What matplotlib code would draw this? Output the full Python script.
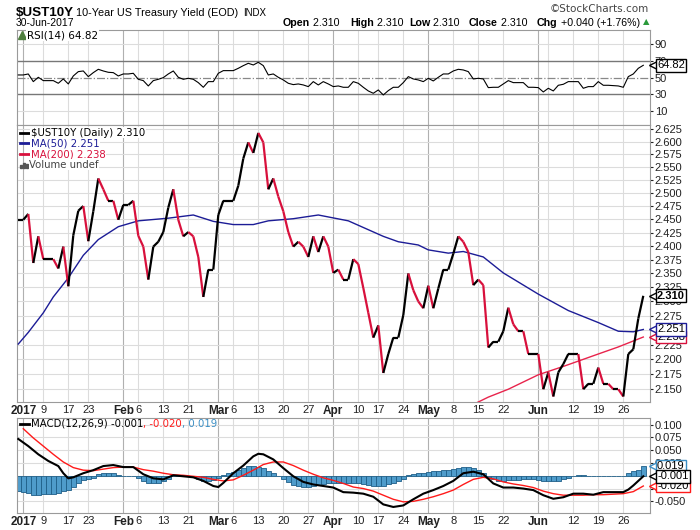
import numpy as np
import pandas as pd
import matplotlib
matplotlib.use('Agg')
import matplotlib.pyplot as plt
import matplotlib.transforms as mtransforms
from matplotlib.collections import LineCollection

plt.rcParams['font.family'] = ['Liberation Sans', 'DejaVu Sans']

# trading days Dec 30 2016 .. Jun 30 2017
holidays = ['2017-01-02', '2017-01-16', '2017-02-20', '2017-04-14', '2017-05-29']
days = pd.bdate_range('2016-12-30', '2017-06-30')
days = days[~days.isin(pd.to_datetime(holidays))]

close = [2.449,
         2.449, 2.460, 2.369, 2.418, 2.376, 2.376, 2.376, 2.359, 2.399, 2.327,
         2.420, 2.466, 2.475, 2.409, 2.465, 2.528, 2.507, 2.485, 2.485, 2.449,
         2.477, 2.477, 2.485, 2.419, 2.399, 2.339, 2.399, 2.408, 2.426, 2.472,
         2.507, 2.449, 2.418, 2.426, 2.418, 2.380, 2.308, 2.357, 2.357,
         2.458, 2.485, 2.485, 2.485, 2.514, 2.567, 2.599, 2.578, 2.618, 2.599,
         2.507, 2.528, 2.493, 2.465, 2.426, 2.399, 2.408, 2.399, 2.380, 2.418,
         2.389, 2.418, 2.399,
         2.351, 2.357, 2.339, 2.339, 2.376, 2.367, 2.324, 2.280, 2.237, 2.258,
         2.177, 2.209, 2.237, 2.237, 2.276, 2.350, 2.320, 2.300, 2.288,
         2.328, 2.288, 2.323, 2.357, 2.357, 2.386, 2.418, 2.408, 2.389, 2.329,
         2.339, 2.329, 2.220, 2.230, 2.230, 2.248, 2.289, 2.260, 2.248, 2.248,
         2.209, 2.209,
         2.209, 2.150, 2.178, 2.138, 2.178, 2.192, 2.209, 2.209, 2.209, 2.150,
         2.159, 2.159, 2.186, 2.159, 2.159, 2.150, 2.150, 2.138, 2.209, 2.217,
         2.270, 2.310]

rsi = [53.2,
       53.2, 54.4, 45.2, 50.4, 46.4, 46.4, 46.4, 43.2, 48.4, 42.4,
       52.0, 57.2, 58.0, 51.2, 56.0, 60.0, 58.0, 56.4, 56.0, 52.0,
       54.4, 54.4, 55.2, 48.0, 46.4, 40.0, 46.4, 48.0, 50.0, 54.4,
       58.0, 50.4, 48.0, 49.2, 48.0, 44.0, 38.4, 45.2, 45.2,
       55.2, 58.4, 58.4, 58.4, 61.2, 64.4, 67.2, 65.2, 68.4, 64.4,
       53.2, 54.4, 50.4, 47.2, 43.2, 41.6, 42.4, 41.2, 39.2, 45.2,
       41.2, 45.2, 42.4,
       39.2, 40.0, 38.4, 38.4, 45.2, 43.2, 38.4, 34.0, 31.2, 35.2,
       29.2, 34.4, 38.4, 38.4, 44.0, 51.2, 48.4, 47.2, 45.2,
       49.2, 46.0, 50.4, 54.4, 54.4, 58.0, 60.0, 59.2, 57.2, 48.4,
       49.2, 48.4, 38.0, 38.4, 38.4, 42.4, 46.4, 44.0, 44.0, 44.0,
       38.4, 38.4,
       38.0, 32.8, 37.2, 34.0, 40.8, 42.0, 45.2, 45.2, 45.2, 37.2,
       39.2, 39.2, 45.2, 40.8, 40.8, 40.4, 40.0, 38.4, 51.2, 54.4,
       61.2, 64.82]

hist = [-0.030,
        -0.031, -0.033, -0.038, -0.038, -0.036, -0.035, -0.035, -0.033, -0.030, -0.028,
        -0.021, -0.014, -0.008, -0.007, -0.004, 0.003, 0.005, 0.005, 0.005, 0.002,
        0.000, 0.000, 0.000, -0.005, -0.010, -0.014, -0.015, -0.014, -0.011, -0.006,
        0.001, 0.002, 0.001, -0.001, -0.003, -0.006, -0.010, -0.011, -0.009,
        -0.004, 0.002, 0.006, 0.008, 0.011, 0.016, 0.019, 0.019, 0.017, 0.015,
        0.009, 0.005, 0.000, -0.006, -0.012, -0.018, -0.020, -0.021, -0.021, -0.020,
        -0.019, -0.016, -0.015,
        -0.014, -0.014, -0.014, -0.014, -0.014, -0.015, -0.017, -0.019, -0.020, -0.020,
        -0.020, -0.017, -0.014, -0.010, -0.006, 0.001, 0.003, 0.005, 0.006,
        0.007, 0.009, 0.010, 0.011, 0.012, 0.014, 0.016, 0.018, 0.018, 0.016,
        0.011, 0.005, -0.003, -0.007, -0.010, -0.010, -0.009, -0.009, -0.008, -0.007,
        -0.007, -0.007,
        -0.008, -0.010, -0.011, -0.011, -0.010, -0.007, -0.004, 0.000, 0.001, 0.001,
        -0.001, -0.001, 0.000, 0.000, 0.000, 0.000, 0.000, 0.000, 0.005, 0.009,
        0.012, 0.019]

# moving averages, read at selected trading days (index from Dec 30)
ma50_day = [0, 2, 5, 7, 10, 13, 16, 20, 24, 30, 35, 39, 43, 47, 50, 55, 60, 66,
            73, 76, 80, 82, 86, 89, 93, 97, 104, 110, 116, 120, 123, 125]
ma50_val = [2.226, 2.246, 2.280, 2.308, 2.342, 2.383, 2.412, 2.436, 2.447, 2.452,
            2.458, 2.446, 2.440, 2.440, 2.447, 2.451, 2.458, 2.447, 2.418, 2.408,
            2.402, 2.393, 2.387, 2.390, 2.380, 2.351, 2.313, 2.284, 2.263, 2.248,
            2.247, 2.251]
ma200_day = [90, 94, 98, 104, 109, 116, 120, 125]
ma200_val = [2.121, 2.137, 2.150, 2.174, 2.188, 2.209, 2.221, 2.238]

macd_day = [0, 2, 4, 6, 8, 9, 10, 11, 13, 15, 17, 19, 21, 23, 25, 27, 29, 31, 33,
            35, 37, 39, 40, 41, 43, 45, 47, 48, 49, 51, 53, 55, 57, 59, 61, 63, 65,
            67, 69, 71, 73, 75, 77, 79, 81, 83, 85, 87, 89, 91, 93, 95, 97, 99, 101,
            103, 105, 107, 109, 111, 113, 115, 117, 119, 121, 122, 123, 124, 125]
macd_val = [0.072, 0.058, 0.042, 0.029, 0.019, 0.005, -0.005, -0.003, 0.005, 0.011,
            0.019, 0.021, 0.017, 0.017, 0.003, -0.005, -0.007, 0.001, -0.001, -0.003,
            -0.010, -0.020, -0.022, -0.014, 0.005, 0.020, 0.038, 0.043, 0.042, 0.032,
            0.015, -0.001, -0.012, -0.017, -0.020, -0.023, -0.032, -0.033, -0.035,
            -0.041, -0.056, -0.061, -0.058, -0.046, -0.035, -0.028, -0.020, -0.010,
            0.005, 0.008, 0.003, -0.015, -0.023, -0.023, -0.025, -0.028, -0.038,
            -0.045, -0.042, -0.035, -0.035, -0.037, -0.032, -0.032, -0.032, -0.027,
            -0.019, -0.010, -0.001]
sig_day = [1, 3, 5, 7, 9, 11, 13, 15, 17, 19, 21, 23, 25, 27, 29, 31, 33, 35, 37,
           39, 41, 43, 45, 47, 49, 51, 53, 55, 57, 59, 61, 63, 65, 67, 69, 71, 73,
           75, 77, 79, 81, 83, 85, 87, 89, 91, 93, 95, 97, 99, 101, 103, 105, 107,
           109, 111, 113, 115, 117, 119, 121, 123, 125]
sig_val = [0.092, 0.074, 0.058, 0.042, 0.027, 0.016, 0.011, 0.010, 0.013, 0.016,
           0.017, 0.017, 0.012, 0.009, 0.005, 0.002, 0.001, -0.001, -0.003, -0.007,
           -0.010, -0.008, 0.001, 0.011, 0.022, 0.027, 0.027, 0.020, 0.011, 0.003,
           -0.004, -0.009, -0.015, -0.022, -0.025, -0.030, -0.038, -0.046, -0.051,
           -0.050, -0.046, -0.041, -0.035, -0.028, -0.017, -0.007, -0.003, -0.006,
           -0.012, -0.016, -0.019, -0.023, -0.030, -0.035, -0.038, -0.038, -0.038,
           -0.037, -0.037, -0.036, -0.035, -0.031, -0.020]

tick_dates = ['2017-01-03', '2017-01-09', '2017-01-17', '2017-01-23', '2017-02-01',
              '2017-02-06', '2017-02-13', '2017-02-21', '2017-03-01', '2017-03-06',
              '2017-03-13', '2017-03-20', '2017-03-27', '2017-04-03', '2017-04-10',
              '2017-04-17', '2017-04-24', '2017-05-01', '2017-05-08', '2017-05-15',
              '2017-05-22', '2017-06-01', '2017-06-05', '2017-06-12', '2017-06-19',
              '2017-06-26']
tick_labels = ['2017', '9', '17', '23', 'Feb', '6', '13', '21', 'Mar', '6', '13', '20',
               '27', 'Apr', '10', '17', '24', 'May', '8', '15', '22', 'Jun', '', '12',
               '19', '26']
month_labels = ['2017', 'Feb', 'Mar', 'Apr', 'May', 'Jun']

assert len(days) == len(close) == len(rsi) == len(hist)
x = np.arange(len(days))
tick_pos = [days.get_loc(pd.Timestamp(d)) for d in tick_dates]

# ---------------------------------------------------------------- layout
W, H = 700, 530
fig = plt.figure(figsize=(7, 5.3), dpi=100)
L, R = 17, 650

def panel(top, bot):
    return fig.add_axes([L / W, 1 - bot / H, (R - L) / W, (bot - top) / H])

ax_rsi = panel(30, 125)
ax = panel(125, 402)
ax_macd = panel(418, 513)

grid_c = '#dcdcdc'
month_c = '#b0b0b0'
for a in (ax_rsi, ax, ax_macd):
    a.set_xlim(-0.26, 126.34)
    for s in a.spines.values():
        s.set_color('#9a9a9a')
        s.set_linewidth(0.8)
    for p, lab in zip(tick_pos, tick_labels):
        a.axvline(p, color=month_c if lab in month_labels else grid_c, lw=0.8, zorder=0)
    a.yaxis.tick_right()
    a.tick_params(axis='y', length=2, pad=1.5, labelsize=8, colors='#222222')
    a.tick_params(axis='x', length=0, pad=2, labelsize=8, colors='#222222')
    a.set_xticks(tick_pos)
    a.set_xticklabels(tick_labels)
    for t in a.get_xticklabels():
        if t.get_text() in month_labels:
            t.set_fontweight('bold')
            t.set_fontsize(8.5)
ax_rsi.set_xticklabels([])

def tag(a, y, txt, ec, bold=False):
    tr = mtransforms.blended_transform_factory(a.transAxes, a.transData)
    a.plot([1.0], [y], marker='<', ms=7, mfc='white', mec=ec, mew=1,
           transform=mtransforms.offset_copy(tr, fig=fig, x=4, y=0, units='dots'),
           clip_on=False, zorder=9)
    a.annotate(txt, xy=(1.0, y), xycoords=tr, xytext=(7, 0), textcoords='offset pixels',
               ha='left', va='center', fontsize=8, color='black',
               fontweight='bold' if bold else 'normal', annotation_clip=False,
               bbox=dict(boxstyle='square,pad=0.12', fc='white', ec=ec, lw=1), zorder=10)

# ---------------------------------------------------------------- RSI panel
ax_rsi.set_ylim(-6.9, 107.2)
rsi_ticks = [10, 30, 50, 70, 90]
ax_rsi.set_yticks(rsi_ticks)
for v in (10, 90):
    ax_rsi.axhline(v, color=grid_c, lw=0.8, zorder=0)
ax_rsi.axhline(70, color='#777777', lw=1, zorder=1)
ax_rsi.axhline(30, color='#777777', lw=1, zorder=1)
ax_rsi.axhline(50, color='#888888', lw=0.9, ls='-.', zorder=1)
ax_rsi.plot(x, rsi, color='black', lw=0.8, zorder=3)
ax_rsi.plot([0.008], [0.945], marker='^', ms=6, color='#4f7f3f', transform=ax_rsi.transAxes,
            clip_on=False)
ax_rsi.text(0.016, 0.945, 'RSI(14) 64.82', transform=ax_rsi.transAxes, family='DejaVu Sans',
            fontsize=7.5, va='center', ha='left',
            bbox=dict(boxstyle='square,pad=0.1', fc='white', ec='none'))
tag(ax_rsi, rsi[-1], '64.82', 'black')

# ---------------------------------------------------------------- price panel
ax.set_yscale('log')
ax.set_ylim(2.129, 2.634)
yt = np.round(np.arange(2.150, 2.626, 0.025), 3)
ax.set_yticks(yt)
ax.set_yticklabels(['%.3f' % v for v in yt])
ax.yaxis.set_minor_locator(matplotlib.ticker.NullLocator())
for v in yt:
    ax.axhline(v, color=grid_c, lw=0.8, zorder=0)

pts = np.column_stack([x, close])
segs = np.stack([pts[:-1], pts[1:]], axis=1)
seg_c = ['#d8103c' if close[i + 1] < close[i] else 'black' for i in range(len(close) - 1)]
ax.add_collection(LineCollection(segs, colors=seg_c, linewidths=1.6, zorder=4))
ax.plot(ma50_day, ma50_val, color='#1c1c96', lw=1, zorder=3)
ax.plot(ma200_day, ma200_val, color='#e8244c', lw=1, zorder=3)

leg = [('$UST10Y (Daily) 2.310', 'black'), ('MA(50) 2.251', '#1c1c96'),
       ('MA(200) 2.238', '#d8103c'), ('Volume undef', '#444444')]
for k, (txt, c) in enumerate(leg):
    yy = 0.972 - k * 0.0385
    if k < 3:
        ax.plot([0.004, 0.019], [yy, yy], color=c, lw=2, transform=ax.transAxes, zorder=6)
        tx = 0.022
    else:
        for j, hh in enumerate([0.012, 0.02, 0.015]):
            ax.add_patch(plt.Rectangle((0.005 + j * 0.0045, yy - 0.012), 0.0035, hh,
                                       transform=ax.transAxes, color='#555555', zorder=6))
        tx = 0.019
    ax.text(tx, yy, txt, transform=ax.transAxes, family='DejaVu Sans', fontsize=7.3,
            color=c, va='center', ha='left', zorder=6,
            bbox=dict(boxstyle='square,pad=0.05', fc='white', ec='none'))

tag(ax, ma200_val[-1], '2.238', '#d8103c')
tag(ax, ma50_val[-1], '2.251', '#1c1c96')
tag(ax, close[-1], '2.310', 'black', bold=True)

# ---------------------------------------------------------------- MACD panel
ax_macd.set_ylim(-0.0728, 0.113)
mt = np.round(np.arange(-0.050, 0.101, 0.025), 3)
ax_macd.set_yticks(mt)
ax_macd.set_yticklabels(['%.3f' % v for v in mt])
for v in mt:
    ax_macd.axhline(v, color=grid_c, lw=0.8, zorder=0)
ax_macd.bar(x, hist, width=1.0, color='#4f9ccb', edgecolor='#1f5f88', lw=0.6, zorder=2)
ax_macd.plot(sig_day, sig_val, color='#ff1a1a', lw=1, zorder=3)
ax_macd.plot(macd_day, macd_val, color='black', lw=1.5, zorder=4)

ax_macd.plot([0.004, 0.019], [0.937, 0.937], color='black', lw=2, transform=ax_macd.transAxes)
t1 = ax_macd.text(0.022, 0.937, 'MACD(12,26,9) -0.001', transform=ax_macd.transAxes,
                  family='DejaVu Sans', fontsize=7.3, va='center', ha='left')
t2 = ax_macd.annotate(', -0.020', xy=(1, 0), xycoords=t1, va='bottom', ha='left',
                      family='DejaVu Sans', fontsize=7.3, color='#ff1a1a')
ax_macd.annotate(', 0.019', xy=(1, 0), xycoords=t2, va='bottom', ha='left',
                 family='DejaVu Sans', fontsize=7.3, color='#3a8ec4')

tag(ax_macd, sig_val[-1], '-0.020', '#ff1a1a')
tag(ax_macd, hist[-1], '0.019', '#3a8ec4')
tag(ax_macd, macd_val[-1], '-0.001', 'black')

# ---------------------------------------------------------------- header
def ftext(px, py, txt, **kw):
    return fig.text(px / W, 1 - py / H, txt, **kw)

ftext(16, 15.5, '$UST10Y', fontsize=9.6, fontweight='bold', va='baseline')
ftext(76, 15.5, '10-Year US Treasury Yield (EOD)', fontsize=7.8, va='baseline')
ftext(243, 15.5, 'INDX', fontsize=7, va='baseline')
ftext(16, 26, '30-Jun-2017', fontsize=7.5, va='baseline')
ftext(649, 9, '\u00a9StockCharts.com', fontsize=7.5, va='center', ha='right',
      color='#444444', family='DejaVu Sans')

quote = [('Open', ' 2.310', 283), ('High', ' 2.310', 350), ('Low', ' 2.310', 409),
         ('Close', ' 2.310', 469), ('Chg', ' +0.040 (+1.76%)', 537)]
for lab, val, px in quote:
    t = ftext(px, 26, lab, fontsize=7.7, fontweight='bold', va='baseline')
    t = plt.annotate(val, xy=(1, 0), xycoords=t, va='bottom', ha='left', fontsize=7.7,
                     annotation_clip=False)
plt.annotate('\u25b2', xy=(1, 0.2), xycoords=t, xytext=(3, 0), textcoords='offset pixels',
             va='bottom', ha='left', fontsize=6, color='#2a9a3a', family='DejaVu Sans',
             annotation_clip=False)

fig.savefig('out.png', dpi=100, facecolor='white')
